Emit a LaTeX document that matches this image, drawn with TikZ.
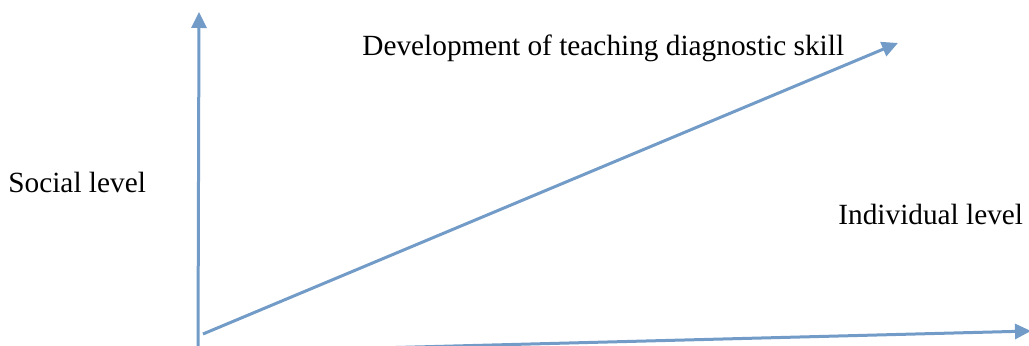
\documentclass[tikz,border=0pt]{standalone}
\usepackage{fontspec}
\setmainfont{Liberation Serif}
\usetikzlibrary{arrows.meta}
\definecolor{axisblue}{RGB}{114,155,199}

\begin{document}
\begin{tikzpicture}[x=0.5pt,y=-0.5pt,
 lbl/.style={font=\fontsize{14.65}{18}\selectfont,inner sep=0pt,anchor=base west},
 arr/.style={-{Triangle[length=8pt,width=7.5pt]},line width=1.5pt,draw=axisblue,color=axisblue}]
\useasboundingbox (0,0) rectangle (1029,346);
% axes
\coordinate (orig) at (198,350);
\coordinate (vtop) at (199,12);
\coordinate (dstart) at (203,334);
\coordinate (dtip) at (898,43);
\coordinate (hstart) at (300,350);
\coordinate (htip) at (1031,331);
\draw[arr] (orig) -- (vtop);
\draw[arr] (dstart) -- (dtip);
\draw[arr] (hstart) -- (htip);
% labels
\node[lbl] (skill) at (362,56) {Development of teaching diagnostic skill};
\node[lbl] (social) at (8,193) {Social level};
\node[lbl] (indiv) at (838,225) {Individual level};
\end{tikzpicture}
\end{document}
